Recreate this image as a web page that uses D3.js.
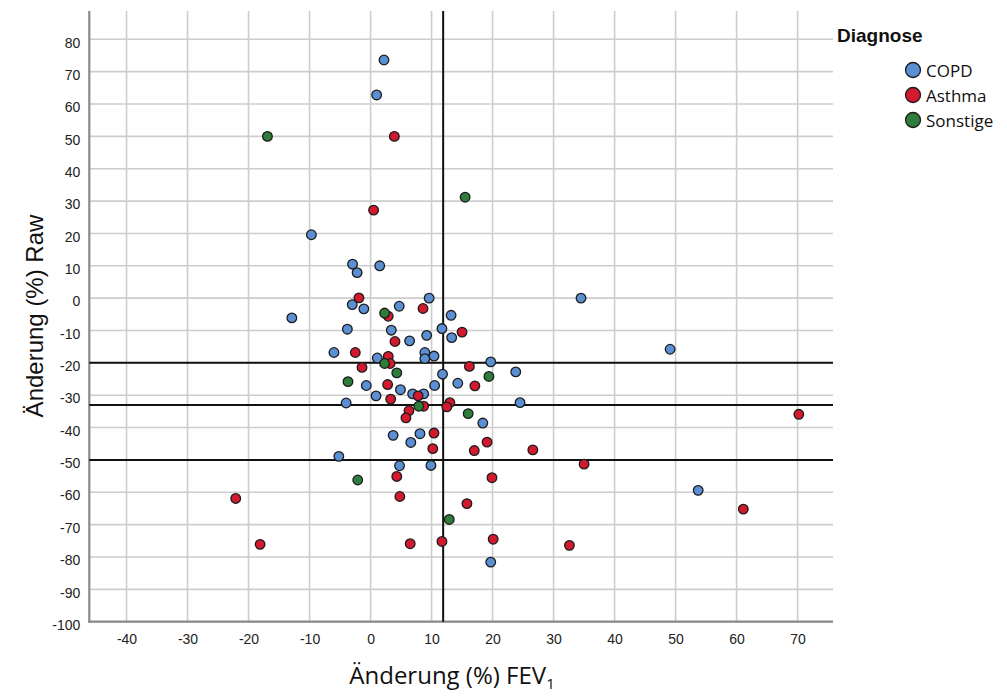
<!DOCTYPE html>
<html><head><meta charset="utf-8">
<script src="https://cdn.jsdelivr.net/npm/d3@7"></script>
<style>body{margin:0;background:#fff}svg{display:block}</style>
</head><body><svg id="c" width="1007" height="697"></svg>
<script>
const xTicks = [-40,-30,-20,-10,0,10,20,30,40,50,60,70];
const yTicks = [-100,-90,-80,-70,-60,-50,-40,-30,-20,-10,0,10,20,30,40,50,60,70,80];
const refX = [11.9];
const refY = [-20,-33,-50];
const groups = ["COPD","Asthma","Sonstige"];
const colors = ["#5b8fd3","#d2192d","#2f7d3a"];

const copdX = [2.2,1.0,-9.7,-2.95,-2.2,1.5,-3.0,-1.1,-12.9,4.7,9.6,13.2,11.7,13.3,-3.8,3.4,6.4,9.2,-6.0,1.1,8.9,8.9,10.4,19.7,23.8,11.8,-0.7,4.9,10.5,14.3,0.9,6.9,8.7,-4.0,24.5,18.4,3.7,6.6,8.1,-5.2,4.75,9.9,34.5,49.1,53.7,19.7];
const copdY = [73.6,62.8,19.6,10.5,7.9,10.0,-2.0,-3.3,-6.1,-2.5,0.0,-5.3,-9.4,-12.2,-9.6,-9.9,-13.2,-11.5,-16.8,-18.5,-16.8,-18.7,-17.9,-19.7,-22.8,-23.5,-27.0,-28.3,-27.0,-26.3,-30.2,-29.6,-29.6,-32.4,-32.3,-38.6,-42.4,-44.6,-41.9,-48.9,-51.8,-51.7,0.0,-15.8,-59.4,-81.6];

const asthmaX = [3.9,0.5,-1.9,2.9,8.6,15.0,4.0,-2.5,2.9,3.2,-1.4,16.2,2.8,17.1,3.3,7.8,8.7,13.0,12.5,6.3,5.8,10.4,10.2,17.0,19.1,26.6,4.3,19.9,35.0,61.1,4.8,15.8,6.5,11.7,20.1,32.6,70.2,-22.1,-18.1];
const asthmaY = [50,27.2,0.1,-5.6,-3.2,-10.5,-13.4,-16.8,-18.0,-20.2,-21.4,-21.1,-26.7,-27.1,-31.2,-30.2,-33.4,-32.3,-33.6,-34.8,-37.0,-41.7,-46.5,-47.1,-44.5,-46.9,-55.1,-55.5,-51.3,-65.2,-61.3,-63.5,-75.9,-75.2,-74.5,-76.4,-35.9,-61.9,-76.1];

const sonstX = [-16.9,15.5,2.3,2.3,19.4,4.3,-3.7,7.9,16.0,-2.1,12.9];
const sonstY = [50.0,31.2,-4.6,-20.2,-24.2,-23.1,-25.8,-33.4,-35.7,-56.2,-68.4];

const series = [
  {name:groups[0], color:colors[0], xs:copdX, ys:copdY},
  {name:groups[1], color:colors[1], xs:asthmaX, ys:asthmaY},
  {name:groups[2], color:colors[2], xs:sonstX, ys:sonstY}
];

const svg = d3.select("#c");
const L=89.3, R=833, T=11, B=621.7;
const x = d3.scaleLinear().domain([-46.1,75.8]).range([L,R]);
const y = d3.scaleLinear().domain([-100,88.75]).range([B,T]);

const g = svg.append("g");
// grid
g.selectAll(".gx").data(xTicks).enter().append("line")
  .attr("x1",d=>x(d)).attr("x2",d=>x(d)).attr("y1",T).attr("y2",B)
  .attr("stroke","#cdcdcd").attr("stroke-width",1.6);
g.selectAll(".gy").data(yTicks).enter().append("line")
  .attr("x1",L).attr("x2",R).attr("y1",d=>y(d)).attr("y2",d=>y(d))
  .attr("stroke","#cdcdcd").attr("stroke-width",1.6);

// axes via d3 axis (labels only)
const fmt = d=>String(d);
const xAxis = d3.axisBottom(x).tickValues(xTicks).tickFormat(fmt).tickSize(0).tickPadding(12);
const yAxis = d3.axisLeft(y).tickValues(yTicks).tickFormat(fmt).tickSize(0).tickPadding(9);
const gx = svg.append("g").attr("transform",`translate(0,${B})`).call(xAxis);
const gy = svg.append("g").attr("transform",`translate(${L},0)`).call(yAxis);
[gx,gy].forEach(a=>{
  a.select(".domain").remove();
  a.selectAll("text").attr("font-family","'Liberation Sans', Arial, sans-serif")
   .attr("font-size",14).attr("fill","#222");
});
gy.selectAll("text").attr("dy","0.55em");

// axis lines
svg.append("line").attr("x1",L).attr("x2",L).attr("y1",T).attr("y2",B+1)
  .attr("stroke","#8a8a8a").attr("stroke-width",2.2);
svg.append("line").attr("x1",L-1).attr("x2",R).attr("y1",B).attr("y2",B)
  .attr("stroke","#8a8a8a").attr("stroke-width",2.2);

// reference lines
svg.selectAll(".rx").data(refX).enter().append("line")
  .attr("x1",d=>x(d)).attr("x2",d=>x(d)).attr("y1",T).attr("y2",B)
  .attr("stroke","#111").attr("stroke-width",2);
svg.selectAll(".ry").data(refY).enter().append("line")
  .attr("x1",L).attr("x2",R).attr("y1",d=>y(d)).attr("y2",d=>y(d))
  .attr("stroke","#111").attr("stroke-width",2);

// points
series.forEach(s=>{
  const pts = s.xs.map((v,i)=>[v,s.ys[i]]);
  svg.append("g").selectAll("circle").data(pts).enter().append("circle")
    .attr("cx",d=>x(d[0])).attr("cy",d=>y(d[1])).attr("r",4.8)
    .attr("fill",s.color).attr("stroke","#1c1c1c").attr("stroke-width",1.3);
});

// axis titles
svg.append("text").attr("transform","translate(43,316) rotate(-90)")
  .attr("text-anchor","middle").attr("font-family","'Liberation Sans', Arial, sans-serif")
  .attr("font-size",24).attr("fill","#111").text("Änderung (%) Raw");
const xt = svg.append("text").attr("x",452).attr("y",684).attr("text-anchor","middle")
  .attr("font-family","'Open Sans', 'Noto Sans', sans-serif").attr("font-size",24).attr("fill","#111");
xt.append("tspan").text("Änderung (%) FEV");
xt.append("tspan").attr("font-size",15).attr("dy",5).text("1");

// legend
svg.append("text").attr("x",837).attr("y",42).attr("font-family","'Liberation Sans', Arial, sans-serif")
  .attr("font-weight","bold").attr("font-size",19).attr("fill","#111").text("Diagnose");
const lg = svg.append("g").selectAll("g").data(series).enter().append("g")
  .attr("transform",(d,i)=>`translate(913,${70+i*25})`);
lg.append("circle").attr("r",7.5).attr("fill",d=>d.color).attr("stroke","#1c1c1c").attr("stroke-width",1.3);
lg.append("text").attr("x",13).attr("y",7).attr("font-family","'Open Sans', 'Noto Sans', sans-serif")
  .attr("font-size",17).attr("fill","#111").text(d=>d.name);
</script></body></html>
